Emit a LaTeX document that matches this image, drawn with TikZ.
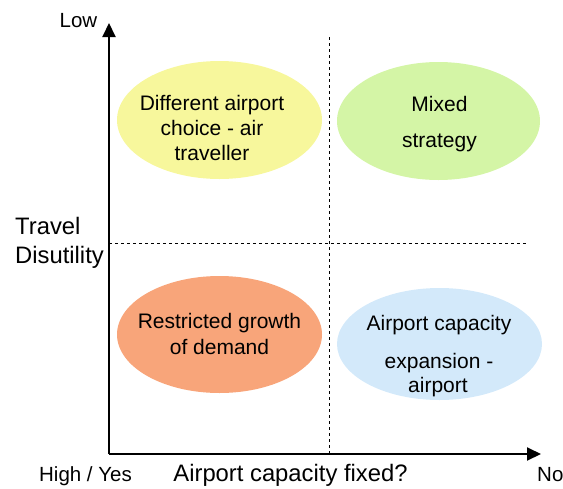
\documentclass[tikz,border=0pt]{standalone}
\usepackage{fontspec}
\setmainfont{Liberation Sans}
\usetikzlibrary{arrows.meta,shapes.geometric}
\definecolor{cyellow}{HTML}{F7F79C}
\definecolor{cgreen}{HTML}{D4F5A6}
\definecolor{corange}{HTML}{F8A57A}
\definecolor{cblue}{HTML}{D3E9FA}
\tikzset{
  blob/.style={ellipse, draw=none, inner sep=0pt},
  etext/.style={anchor=base, inner sep=0pt, font=\fontsize{21}{25}\selectfont},
  lbl/.style={anchor=base, inner sep=0pt, font=\fontsize{20.5}{24}\selectfont},
  ttl/.style={anchor=base, inner sep=0pt, font=\fontsize{23.8}{28}\selectfont},
  axis/.style={line width=2pt, -{Triangle[length=14pt,width=13pt]}},
  divider/.style={line width=0.9pt, dash pattern=on 3pt off 3pt}
}
\begin{document}
\begin{tikzpicture}[x=1pt,y=-1pt]
\useasboundingbox (0,0) rectangle (563,488);
% ellipses
\node[blob, fill=cyellow, minimum width=205pt, minimum height=118pt] (ey) at (219.5,120) {};
\node[blob, fill=cgreen, minimum width=203pt, minimum height=118pt] (eg) at (438.5,121) {};
\node[blob, fill=corange, minimum width=205pt, minimum height=117pt] (eo) at (219.5,334.5) {};
\node[blob, fill=cblue, minimum width=205pt, minimum height=112pt] (eb) at (439.5,344) {};
% dividers
\coordinate (vtop) at (329,37);
\coordinate (vbot) at (329,454);
\coordinate (hl) at (109,243);
\coordinate (hr) at (527,243);
\draw[divider] (vtop) -- (vbot);
\draw[divider] (hl) -- (hr);
% axes
\coordinate (o) at (109,454);
\coordinate (ytip) at (109,23);
\coordinate (xtip) at (541,454);
\draw[axis] (o) -- (ytip);
\draw[axis] (o) -- (xtip);
% ellipse texts
\node[etext] (y1) at (212,110) {Different airport};
\node[etext] (y2) at (212,135) {choice - air};
\node[etext] (y3) at (212,160) {traveller};
\node[etext] (g1) at (439.5,111) {Mixed};
\node[etext] (g2) at (439.5,147) {strategy};
\node[etext] (o1) at (219.5,328) {Restricted growth};
\node[etext] (o2) at (219.5,354) {of demand};
\node[etext] (b1) at (439,330) {Airport capacity};
\node[etext] (b2) at (439,368) {expansion -};
\node[etext] (b3) at (438,392) {airport};
% axis labels
\node[lbl] (low) at (78.5,27) {Low};
\node[ttl, anchor=base west] (tr) at (15,234) {Travel};
\node[ttl, anchor=base west] (dis) at (15,263) {Disutility};
\node[lbl] (hy) at (85.5,481) {High / Yes};
\node[ttl] (acf) at (290.5,481) {Airport capacity fixed?};
\node[lbl, anchor=base west] (no) at (537,481) {No};
\end{tikzpicture}
\end{document}
